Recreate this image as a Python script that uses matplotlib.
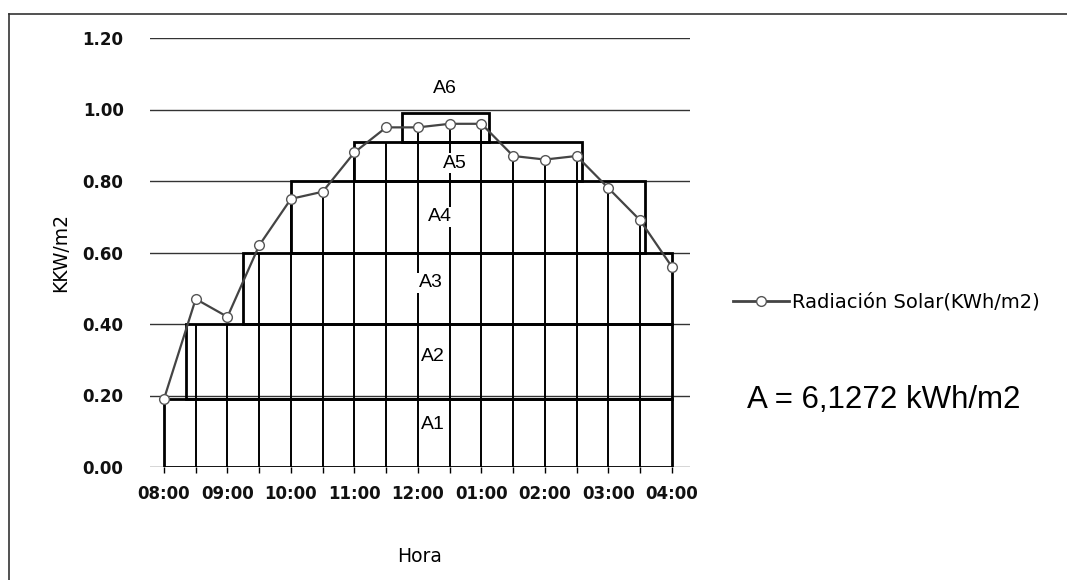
import numpy as np
import matplotlib
matplotlib.use("Agg")
import matplotlib.pyplot as plt
from matplotlib.patches import Rectangle
from matplotlib.lines import Line2D

# ---------------- data ----------------
hours = ["08:00", "08:30", "09:00", "09:30", "10:00", "10:30", "11:00", "11:30",
         "12:00", "12:30", "01:00", "01:30", "02:00", "02:30", "03:00", "03:30", "04:00"]
radiacion = [0.19, 0.47, 0.42, 0.62, 0.75, 0.77, 0.88, 0.95,
             0.95, 0.96, 0.96, 0.87, 0.86, 0.87, 0.78, 0.69, 0.56]

# approximation rectangles (start index, end index, bottom, top)
area_names = ["A1", "A2", "A3", "A4", "A5", "A6"]
area_x0 = [0.0, 0.7, 2.5, 4.0, 6.0, 7.5]
area_x1 = [16.0, 16.0, 16.0, 15.15, 13.17, 10.25]
area_y0 = [0.00, 0.19, 0.40, 0.60, 0.80, 0.91]
area_y1 = [0.19, 0.40, 0.60, 0.80, 0.91, 0.99]
area_label_x = [8.47, 8.47, 8.4, 8.7, 9.17, 8.85]
area_label_y = [0.12, 0.31, 0.515, 0.70, 0.85, 1.06]

yticks = [0.0, 0.2, 0.4, 0.6, 0.8, 1.0, 1.2]
total_text = "A = 6,1272 kWh/m2"
legend_label = "Radiación Solar(KWh/m2)"

# ---------------- figure ----------------
W, H = 1067, 580
fig = plt.figure(figsize=(W / 100, H / 100), dpi=100)
ax = fig.add_axes([150 / W, 1 - 467 / H, 540 / W, (467 - 38) / H])

x = np.arange(len(hours))
ax.set_xlim(-0.44, 16.57)
ax.set_ylim(0, 1.2)

# gridlines
ax.set_yticks(yticks)
ax.set_yticklabels([f"{v:.2f}" for v in yticks])
ax.yaxis.grid(True, color="#333333", lw=1.0)
ax.set_axisbelow(True)
for s in ax.spines.values():
    s.set_visible(False)

# rectangles
for x0, x1, y0, y1 in zip(area_x0, area_x1, area_y0, area_y1):
    ax.add_patch(Rectangle((x0, y0), x1 - x0, y1 - y0, fill=False,
                           edgecolor="black", lw=2.0, zorder=3))

# vertical lines at each data point, up to the lower of curve and stack top
def stack_top(xv):
    tops = [y1 for x0, x1, y1 in zip(area_x0, area_x1, area_y1) if x0 <= xv <= x1]
    return max(tops) if tops else 0
vx = x[1:-1]
vtop = [min(r, stack_top(xx)) for xx, r in zip(vx, radiacion[1:-1])]
ax.vlines(vx, 0, vtop, colors="black", lw=1.4, zorder=3)

# labels of areas
for name, lx, ly in zip(area_names, area_label_x, area_label_y):
    ax.text(lx, ly, name, ha="center", va="center", fontsize=14,
            family="Liberation Sans", zorder=5,
            bbox=dict(facecolor="white", edgecolor="none", pad=1.0))

# the series
ax.plot(x, radiacion, color="#444444", lw=1.6, marker="o", ms=7,
        mfc="white", mec="#555555", mew=1.0, zorder=6)

# x ticks
ax.set_xticks(x)
ax.set_xticklabels([h if i % 2 == 0 else "" for i, h in enumerate(hours)])
ax.tick_params(axis="x", length=4, width=1, color="black", pad=9,
               labelsize=12)
ax.tick_params(axis="y", length=0, pad=19, labelsize=12)
for lab in ax.get_xticklabels() + ax.get_yticklabels():
    lab.set_fontweight("bold")
    lab.set_color("#111111")

ax.set_xlabel("Hora", fontsize=13.5, va="center")
ax.xaxis.set_label_coords(0.5, (467 - 557) / (467 - 38))
ax.set_ylabel("KKW/m2", fontsize=13.5, va="center")
ax.yaxis.set_label_coords((61 - 150) / 540, 0.5)

# legend
handle = Line2D([], [], color="#444444", lw=2, marker="o", ms=7,
                mfc="white", mec="#555555")
fig.legend([handle], [legend_label], loc="center left",
           bbox_to_anchor=(733 / W, 1 - 302 / H), frameon=False,
           fontsize=14, handlelength=2.9, handletextpad=0.15,
           borderpad=0, borderaxespad=0)

fig.text(747 / W, 1 - 400 / H, total_text, fontsize=22.5,
         family="Liberation Sans", ha="left", va="center")

# page border (top and left)
fig.add_artist(Line2D([9 / W, 9 / W], [0, 1 - 14 / H], transform=fig.transFigure,
                      color="#333333", lw=1.2))
fig.add_artist(Line2D([9 / W, 1], [1 - 14 / H, 1 - 14 / H], transform=fig.transFigure,
                      color="#333333", lw=1.2))

fig.savefig("out.png", dpi=100)
